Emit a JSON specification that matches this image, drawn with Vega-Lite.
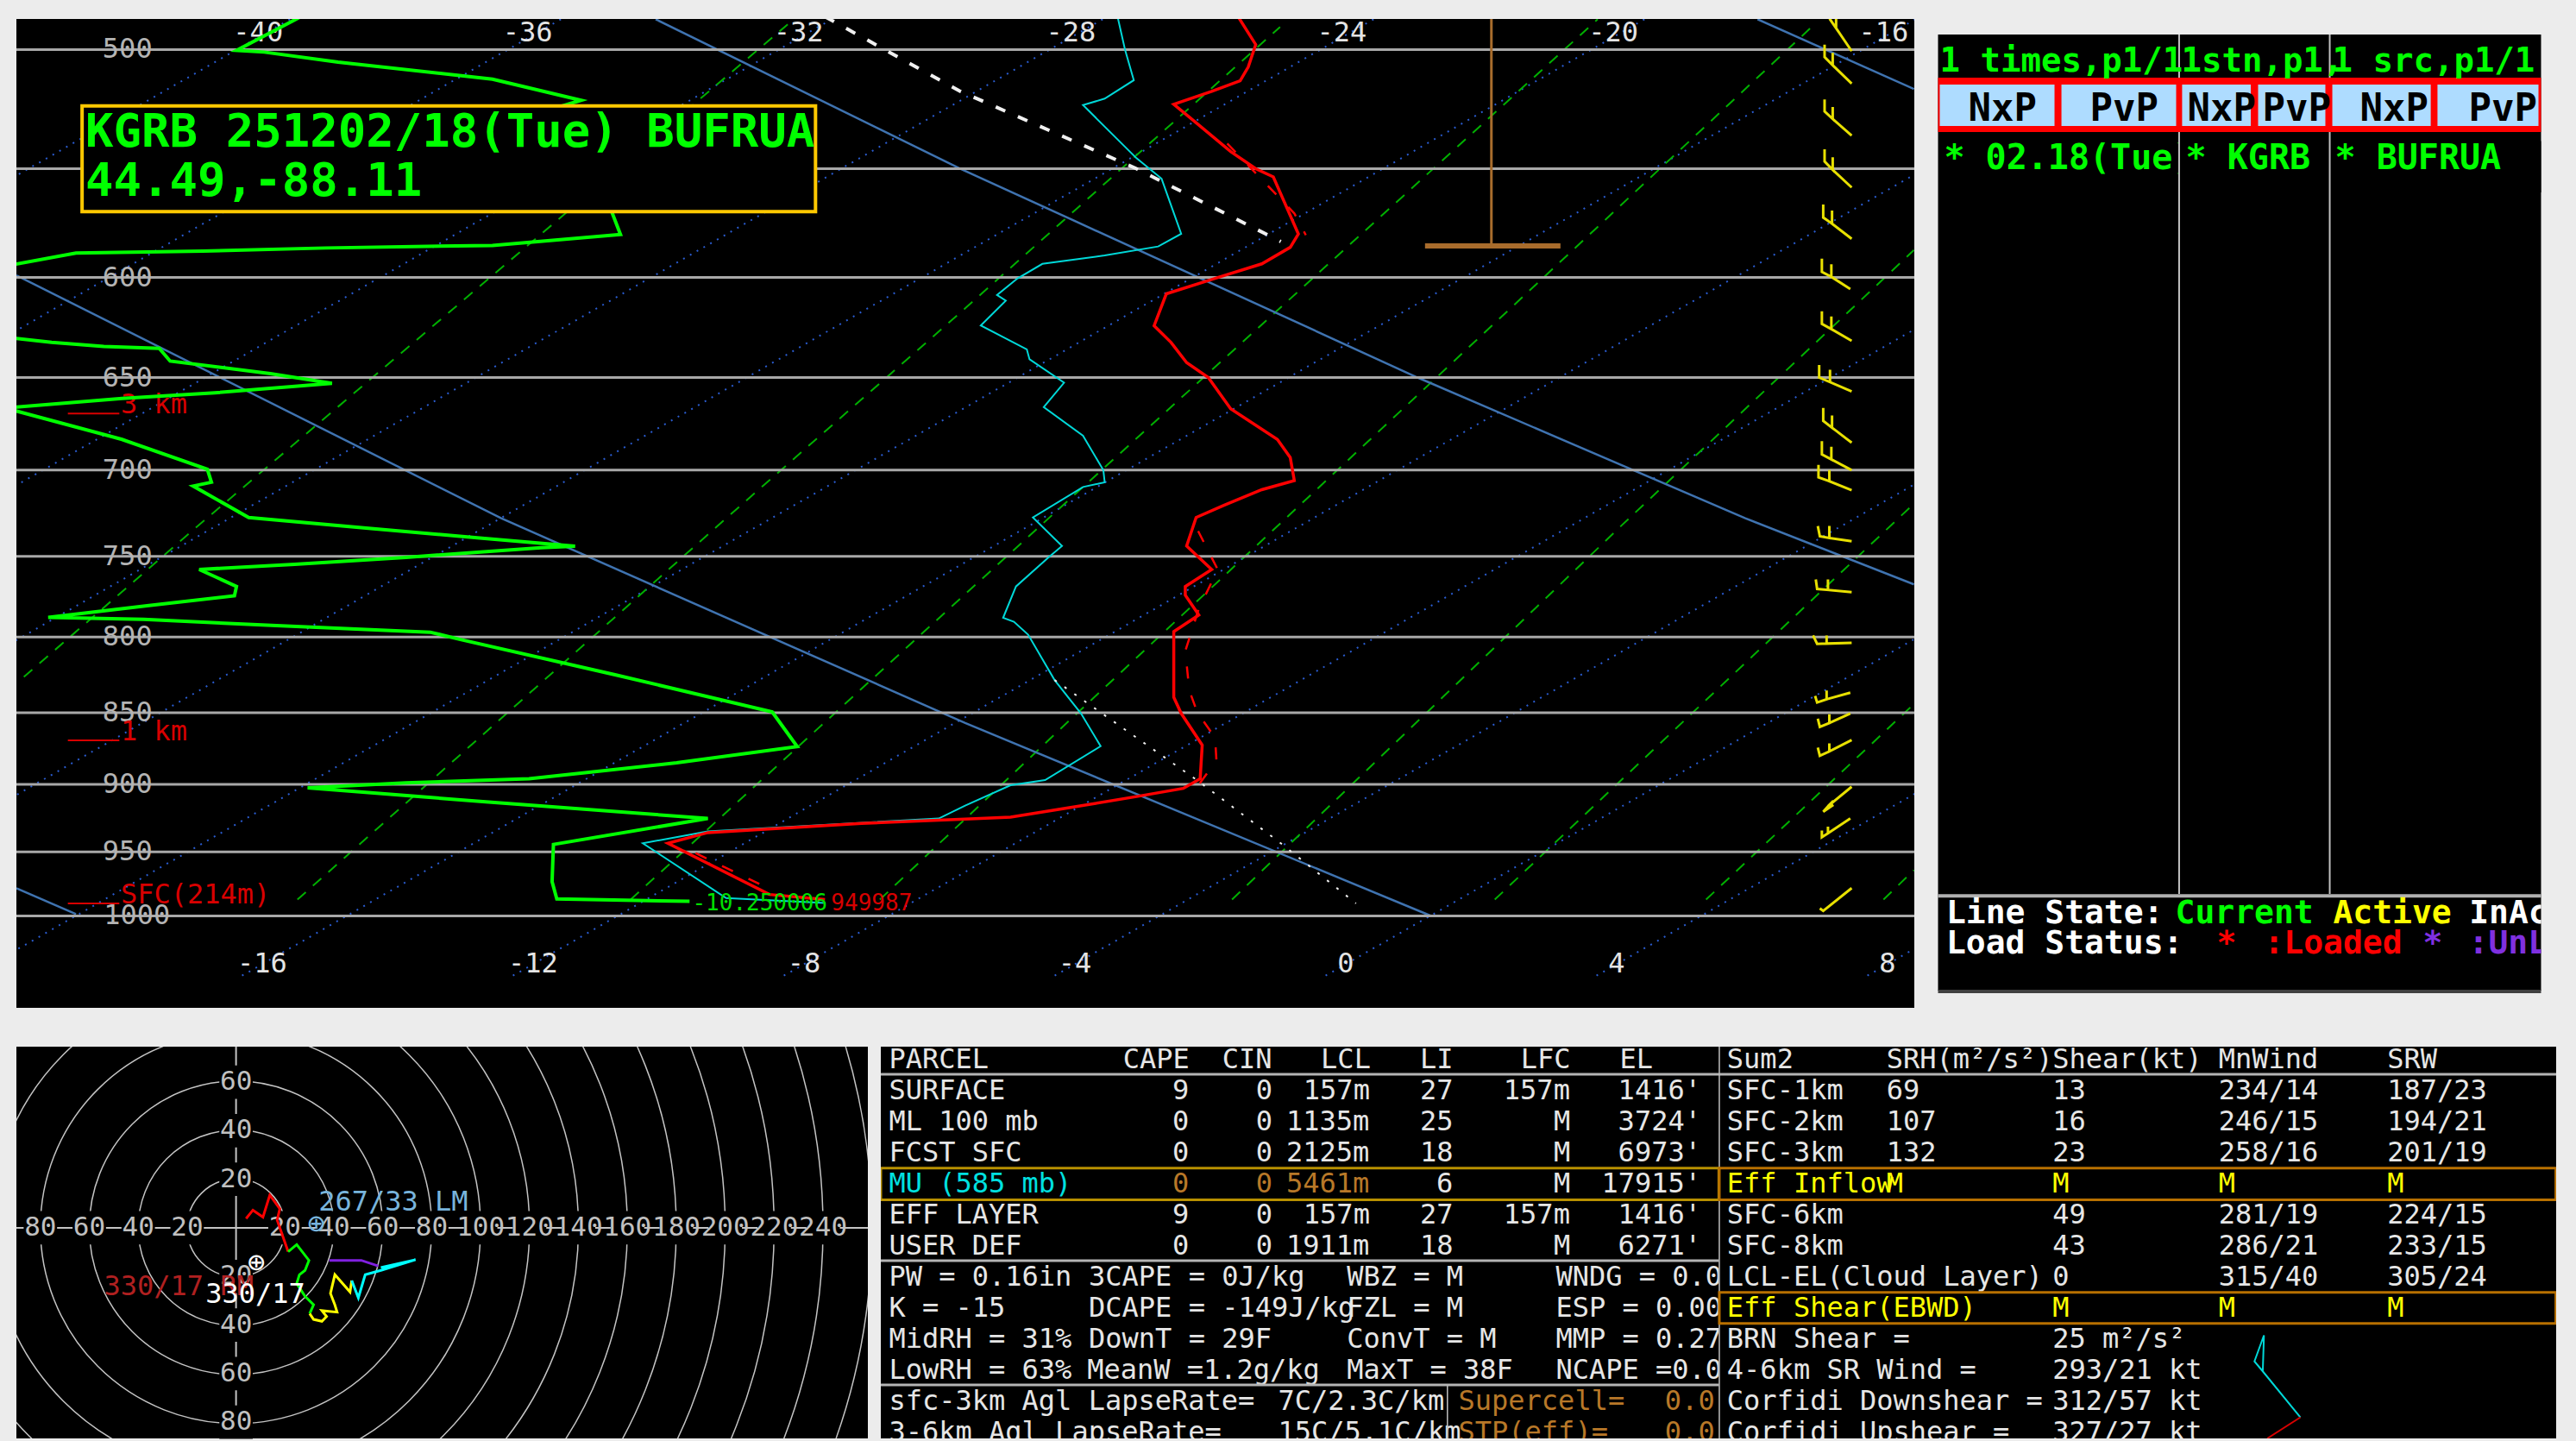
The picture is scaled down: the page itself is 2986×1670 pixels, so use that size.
{
"$schema":"https://vega.github.io/schema/vega-lite/v6.json",
"background":"#ececec",
"padding":{"left":17,"top":22,"right":24,"bottom":4},
"config":{"view":{"stroke":null},"axis":{"disable":true},"legend":{"disable":true},"text":{"font":"DejaVu Sans Mono"}},
"spacing":44,
"resolve":{"scale":{"color":"independent","stroke":"independent"}},
"datasets":{
"iso":[{"s":-40,"tx":-15.59,"p":488},{"s":-40,"tx":-40.33,"p":1050},{"s":-36,"tx":-11.59,"p":488},{"s":-36,"tx":-36.33,"p":1050},{"s":-32,"tx":-7.59,"p":488},{"s":-32,"tx":-32.33,"p":1050},{"s":-28,"tx":-3.59,"p":488},{"s":-28,"tx":-28.33,"p":1050},{"s":-24,"tx":0.41,"p":488},{"s":-24,"tx":-24.33,"p":1050},{"s":-20,"tx":4.41,"p":488},{"s":-20,"tx":-20.33,"p":1050},{"s":-16,"tx":8.41,"p":488},{"s":-16,"tx":-16.33,"p":1050},{"s":-12,"tx":12.41,"p":488},{"s":-12,"tx":-12.33,"p":1050},{"s":-8,"tx":16.41,"p":488},{"s":-8,"tx":-8.33,"p":1050},{"s":-4,"tx":20.41,"p":488},{"s":-4,"tx":-4.33,"p":1050},{"s":0,"tx":24.41,"p":488},{"s":0,"tx":-0.33,"p":1050},{"s":4,"tx":28.41,"p":488},{"s":4,"tx":3.67,"p":1050},{"s":8,"tx":32.41,"p":488},{"s":8,"tx":7.67,"p":1050}],
"mix":[{"s":0,"tx":-19.52,"p":826},{"s":0,"tx":-17.07,"p":736},{"s":0,"tx":-8.24,"p":490},{"s":1,"tx":-15.48,"p":987},{"s":1,"tx":-9.15,"p":727.5},{"s":1,"tx":-5.62,"p":615},{"s":1,"tx":-0.97,"p":491},{"s":2,"tx":-10.56,"p":987},{"s":2,"tx":-5.62,"p":773},{"s":2,"tx":3.72,"p":488},{"s":3,"tx":-6.88,"p":987},{"s":3,"tx":-4.03,"p":853},{"s":3,"tx":6.92,"p":490},{"s":4,"tx":-1.68,"p":987},{"s":4,"tx":4.09,"p":731},{"s":4,"tx":8.39,"p":587},{"s":5,"tx":2.2,"p":987},{"s":5,"tx":8.39,"p":719},{"s":6,"tx":5.32,"p":987},{"s":6,"tx":8.39,"p":844},{"s":7,"tx":7.94,"p":987},{"s":7,"tx":8.39,"p":964}],
"adiabat":[{"s":"A","tx":-10.19,"p":488},{"s":"A","tx":-5.69,"p":550},{"s":"A","tx":1.06,"p":650},{"s":"A","tx":5.9,"p":727.5},{"s":"A","tx":8.39,"p":767},{"s":"B","tx":-19.63,"p":599},{"s":"B","tx":-12.47,"p":727.5},{"s":"B","tx":-5.62,"p":857},{"s":"B","tx":1.26,"p":1000},{"s":"C","tx":-19.63,"p":978},{"s":"C","tx":-18.75,"p":998.6},{"s":"D","tx":6.08,"p":488},{"s":"D","tx":8.39,"p":516}],
"grid":[{"p":500},{"p":550},{"p":600},{"p":650},{"p":700},{"p":750},{"p":800},{"p":850},{"p":900},{"p":950},{"p":1000}],
"dew":[{"tx":-15.43,"p":487},{"tx":-16.38,"p":500.3},{"tx":-15.97,"p":501},{"tx":-14.88,"p":505},{"tx":-12.6,"p":512},{"tx":-11.29,"p":520.7},{"tx":-11.56,"p":523},{"tx":-10.83,"p":570},{"tx":-10.71,"p":579.7},{"tx":-12.6,"p":584.8},{"tx":-15.06,"p":586},{"tx":-16.88,"p":587.5},{"tx":-18.75,"p":588.4},{"tx":-24,"p":620},{"tx":-19.63,"p":630},{"tx":-19.11,"p":632},{"tx":-18.34,"p":634},{"tx":-17.52,"p":635},{"tx":-17.36,"p":641.5},{"tx":-15.88,"p":648},{"tx":-14.97,"p":653},{"tx":-15.52,"p":654.6},{"tx":-16.7,"p":658},{"tx":-18.07,"p":661},{"tx":-19.63,"p":665.6},{"tx":-19.7,"p":667},{"tx":-18.07,"p":683},{"tx":-16.81,"p":699.5},{"tx":-16.75,"p":706.8},{"tx":-17.02,"p":709},{"tx":-16.2,"p":727},{"tx":-14.43,"p":733.3},{"tx":-12.79,"p":739},{"tx":-11.38,"p":743.9},{"tx":-11.88,"p":744.8},{"tx":-13.88,"p":750.6},{"tx":-15.52,"p":754.8},{"tx":-16.93,"p":757.9},{"tx":-16.38,"p":768.3},{"tx":-16.41,"p":774},{"tx":-17.7,"p":780.2},{"tx":-19.16,"p":787.5},{"tx":-17.75,"p":788.8},{"tx":-15.79,"p":792.7},{"tx":-13.52,"p":796.9},{"tx":-13.06,"p":801.7},{"tx":-10.79,"p":824.5},{"tx":-8.47,"p":849.4},{"tx":-8.1,"p":873.3},{"tx":-9.88,"p":884.7},{"tx":-12.06,"p":896},{"tx":-13.88,"p":899},{"tx":-15.33,"p":902.6},{"tx":-12.7,"p":912.7},{"tx":-9.42,"p":925},{"tx":-11.7,"p":944.4},{"tx":-11.72,"p":973},{"tx":-11.65,"p":986.4},{"tx":-9.69,"p":988.4}],
"temp":[{"tx":-1.59,"p":487},{"tx":-1.33,"p":498},{"tx":-1.44,"p":507},{"tx":-1.56,"p":512.6},{"tx":-1.98,"p":517},{"tx":-2.54,"p":522.4},{"tx":-2.3,"p":528},{"tx":-1.7,"p":542.5},{"tx":-1.33,"p":550},{"tx":-1.07,"p":553.6},{"tx":-0.7,"p":579.5},{"tx":-0.82,"p":585.7},{"tx":-1.24,"p":593.5},{"tx":-1.89,"p":600},{"tx":-2.65,"p":607.9},{"tx":-2.83,"p":623.6},{"tx":-2.58,"p":632},{"tx":-2.35,"p":642.3},{"tx":-2.03,"p":650},{"tx":-1.7,"p":666.5},{"tx":-1.01,"p":683},{"tx":-0.82,"p":693},{"tx":-0.76,"p":705.9},{"tx":-1.24,"p":711},{"tx":-1.8,"p":720},{"tx":-2.21,"p":727},{"tx":-2.35,"p":743.8},{"tx":-1.98,"p":757.9},{"tx":-2.37,"p":768.3},{"tx":-2.37,"p":773.6},{"tx":-2.17,"p":786},{"tx":-2.54,"p":796.5},{"tx":-2.54,"p":839.5},{"tx":-2.43,"p":850.4},{"tx":-2.12,"p":872.2},{"tx":-2.15,"p":896},{"tx":-2.4,"p":903},{"tx":-3.09,"p":908.9},{"tx":-4.2,"p":918},{"tx":-4.95,"p":924},{"tx":-5.62,"p":925.5},{"tx":-7.15,"p":928.6},{"tx":-9.42,"p":935.5},{"tx":-10.01,"p":943.5},{"tx":-8.51,"p":983},{"tx":-7.69,"p":987}],
"tv":[{"s":0,"tx":-1.75,"p":539},{"s":0,"tx":-0.76,"p":570},{"s":0,"tx":-0.59,"p":580},{"s":1,"tx":-2.18,"p":735},{"s":1,"tx":-1.89,"p":758},{"s":1,"tx":-2.17,"p":782},{"s":1,"tx":-2.37,"p":809},{"s":1,"tx":-2.31,"p":835},{"s":1,"tx":-2.19,"p":850},{"s":1,"tx":-1.93,"p":867},{"s":1,"tx":-1.91,"p":883},{"s":1,"tx":-2.21,"p":903},{"s":2,"tx":-9.6,"p":951},{"s":2,"tx":-8.65,"p":975}],
"wet":[{"tx":-3.37,"p":487},{"tx":-3.26,"p":500},{"tx":-3.13,"p":512.4},{"tx":-3.56,"p":520},{"tx":-3.88,"p":522.7},{"tx":-3.09,"p":545.4},{"tx":-2.72,"p":554.4},{"tx":-2.43,"p":579.4},{"tx":-2.77,"p":585.3},{"tx":-3.56,"p":589.5},{"tx":-4.48,"p":593.5},{"tx":-4.85,"p":600.5},{"tx":-5.15,"p":608.5},{"tx":-5.02,"p":611.2},{"tx":-5.39,"p":623.5},{"tx":-4.71,"p":635.5},{"tx":-4.67,"p":640.6},{"tx":-4.16,"p":652.7},{"tx":-4.46,"p":665.6},{"tx":-3.88,"p":681},{"tx":-3.58,"p":700},{"tx":-3.56,"p":706.8},{"tx":-3.88,"p":709.5},{"tx":-4.62,"p":727},{"tx":-4.19,"p":743.8},{"tx":-4.39,"p":750.6},{"tx":-4.87,"p":768.3},{"tx":-5.06,"p":787.8},{"tx":-4.9,"p":790.3},{"tx":-4.69,"p":798.5},{"tx":-4.3,"p":828},{"tx":-3.91,"p":850.4},{"tx":-3.62,"p":873},{"tx":-4.44,"p":897},{"tx":-4.95,"p":900.7},{"tx":-5.62,"p":915.5},{"tx":-6.01,"p":925},{"tx":-9.42,"p":934.6},{"tx":-10.38,"p":943.5},{"tx":-9.15,"p":985.8},{"tx":-7.69,"p":989.7}],
"parcelUp":[{"tx":-7.69,"p":487},{"tx":-5.69,"p":517},{"tx":-3.09,"p":550},{"tx":-0.96,"p":583}],
"parcelLow":[{"tx":-4.3,"p":828},{"tx":-2.17,"p":898},{"tx":-0.96,"p":943.5},{"tx":0.15,"p":990}],
"barbs":[
{"b":1,"tx":7.47,"p":500.6},{"b":1,"tx":7.24,"p":491.5},{"b":1,"tx":7.24,"p":486.5},{"b":1,"tx":7.24,"p":491.5},{"b":1,"tx":7.15,"p":488},{"b":1,"tx":7.12,"p":484},
{"b":2,"tx":7.47,"p":513.8},{"b":2,"tx":7.19,"p":506.3},{"b":2,"tx":7.19,"p":501.3},{"b":2,"tx":7.19,"p":506.3},{"b":2,"tx":7.07,"p":503},{"b":2,"tx":7.07,"p":498},
{"b":3,"tx":7.47,"p":535.6},{"b":3,"tx":7.19,"p":528.5},{"b":3,"tx":7.19,"p":523.5},{"b":3,"tx":7.19,"p":528.5},{"b":3,"tx":7.07,"p":525.3},{"b":3,"tx":7.07,"p":520.3},
{"b":4,"tx":7.47,"p":558.3},{"b":4,"tx":7.19,"p":550.5},{"b":4,"tx":7.19,"p":545},{"b":4,"tx":7.19,"p":550.5},{"b":4,"tx":7.07,"p":546.8},{"b":4,"tx":7.07,"p":541.5},
{"b":5,"tx":7.47,"p":581.7},{"b":5,"tx":7.18,"p":574.7},{"b":5,"tx":7.18,"p":568.7},{"b":5,"tx":7.18,"p":574.7},{"b":5,"tx":7.05,"p":571.9},{"b":5,"tx":7.05,"p":566},
{"b":6,"tx":7.45,"p":605.6},{"b":6,"tx":7.17,"p":599.7},{"b":6,"tx":7.17,"p":593.7},{"b":6,"tx":7.17,"p":599.7},{"b":6,"tx":7.03,"p":597.3},{"b":6,"tx":7.03,"p":591},
{"b":7,"tx":7.47,"p":631.2},{"b":7,"tx":7.17,"p":625.3},{"b":7,"tx":7.17,"p":619},{"b":7,"tx":7.17,"p":625.3},{"b":7,"tx":7.03,"p":622.7},{"b":7,"tx":7.03,"p":616.5},
{"b":8,"tx":7.47,"p":657.3},{"b":8,"tx":7.15,"p":652.4},{"b":8,"tx":7.15,"p":646},{"b":8,"tx":7.15,"p":652.4},{"b":8,"tx":6.99,"p":650},{"b":8,"tx":6.99,"p":643.5},
{"b":9,"tx":7.47,"p":684.8},{"b":9,"tx":7.18,"p":676.6},{"b":9,"tx":7.18,"p":670},{"b":9,"tx":7.18,"p":676.6},{"b":9,"tx":7.05,"p":672.9},{"b":9,"tx":7.05,"p":666},
{"b":10,"tx":7.47,"p":700},{"b":10,"tx":7.17,"p":694},{"b":10,"tx":7.17,"p":687},{"b":10,"tx":7.17,"p":694},{"b":10,"tx":7.03,"p":691.2},{"b":10,"tx":7.03,"p":684},
{"b":11,"tx":7.47,"p":711.3},{"b":11,"tx":7.14,"p":706.2},{"b":11,"tx":7.14,"p":700},{"b":11,"tx":7.14,"p":706.2},{"b":11,"tx":6.98,"p":704},{"b":11,"tx":6.98,"p":697},
{"b":12,"tx":7.47,"p":741},{"b":12,"tx":7.14,"p":739},{"b":12,"tx":7.14,"p":732},{"b":12,"tx":7.14,"p":739},{"b":12,"tx":7.0,"p":738},{"b":12,"tx":6.97,"p":732},
{"b":13,"tx":7.47,"p":771.8},{"b":13,"tx":7.12,"p":770.4},{"b":13,"tx":7.12,"p":764},{"b":13,"tx":7.12,"p":770.4},{"b":13,"tx":6.96,"p":769.8},{"b":13,"tx":6.94,"p":764},
{"b":14,"tx":7.47,"p":803.7},{"b":14,"tx":7.1,"p":804.2},{"b":14,"tx":7.1,"p":799},{"b":14,"tx":7.1,"p":804.2},{"b":14,"tx":6.96,"p":804.4},{"b":14,"tx":6.9,"p":799},
{"b":15,"tx":7.45,"p":836.4},{"b":15,"tx":7.1,"p":840.8},{"b":15,"tx":7.1,"p":835},{"b":15,"tx":7.1,"p":840.8},{"b":15,"tx":6.96,"p":843},{"b":15,"tx":6.93,"p":838.6},
{"b":16,"tx":7.45,"p":850.4},{"b":16,"tx":7.14,"p":857},{"b":16,"tx":7.14,"p":851},{"b":16,"tx":7.14,"p":857},{"b":16,"tx":7.0,"p":859.6},{"b":16,"tx":6.97,"p":854},
{"b":17,"tx":7.47,"p":868.7},{"b":17,"tx":7.14,"p":876.7},{"b":17,"tx":7.14,"p":871},{"b":17,"tx":7.14,"p":876.7},{"b":17,"tx":7.0,"p":879.7},{"b":17,"tx":6.97,"p":874},
{"b":18,"tx":7.47,"p":901.8},{"b":18,"tx":7.12,"p":916},{"b":18,"tx":7.2,"p":912},{"b":18,"tx":7.12,"p":916},{"b":18,"tx":7.05,"p":920},{"b":18,"tx":7.2,"p":915},
{"b":19,"tx":7.45,"p":925},{"b":19,"tx":7.12,"p":936},{"b":19,"tx":7.12,"p":931},{"b":19,"tx":7.12,"p":936},{"b":19,"tx":7.03,"p":939},{"b":19,"tx":7.03,"p":934},
{"b":20,"tx":7.47,"p":978},{"b":20,"tx":7.05,"p":996},{"b":20,"tx":7.0,"p":994}
],
"tempLabels":[{"tx":-16.06,"p":493.4,"t":"-40"},{"tx":-12.08,"p":493.4,"t":"-36"},{"tx":-8.08,"p":493.4,"t":"-32"},{"tx":-4.06,"p":493.4,"t":"-28"},{"tx":-0.06,"p":493.4,"t":"-24"},{"tx":3.95,"p":493.4,"t":"-20"},{"tx":7.94,"p":493.4,"t":"-16"},{"tx":-16,"p":1039.4,"t":"-16"},{"tx":-12,"p":1039.4,"t":"-12"},{"tx":-8,"p":1039.4,"t":"-8"},{"tx":-4,"p":1039.4,"t":"-4"},{"tx":0,"p":1039.4,"t":"0"},{"tx":4,"p":1039.4,"t":"4"},{"tx":8,"p":1039.4,"t":"8"}],
"presLabels":[{"tx":-17.99,"p":500,"t":"500"},{"tx":-17.99,"p":600,"t":"600"},{"tx":-17.99,"p":650,"t":"650"},{"tx":-17.99,"p":700,"t":"700"},{"tx":-17.99,"p":750,"t":"750"},{"tx":-17.99,"p":800,"t":"800"},{"tx":-17.99,"p":850,"t":"850"},{"tx":-17.99,"p":900,"t":"900"},{"tx":-17.99,"p":950,"t":"950"},{"tx":-17.85,"p":1000,"t":"1000"}],
"heights":[{"x1":-18.87,"x2":-18.11,"p":669,"tx":-18.09,"t":"3 km"},{"x1":-18.87,"x2":-18.11,"p":869,"tx":-18.09,"t":"1 km"},{"x1":-18.87,"x2":-18.11,"p":990,"tx":-18.09,"t":"SFC(214m)"}],
"stamp":[{"x1":-18.66,"x2":-7.83,"p1":523,"p2":569.2}],
"stampText":[{"tx":-18.61,"p":540.5,"t":"KGRB 251202/18(Tue) BUFRUA"},{"tx":-18.61,"p":562.2,"t":"44.49,-88.11"}],
"tbarV":[{"tx":2.15,"p1":487.9,"p2":585}],
"tbarH":[{"x1":1.17,"x2":3.17,"p":585}],
"side":[{"c1":0,"c2":30.39,"l1":-1.229,"l2":30.43}],
"sideBand":[{"c1":0,"c2":30.39,"l1":0.2,"l2":2.0}],
"sideCover":[{"c1":12.15,"c2":30.39,"l1":2.3,"l2":4}],
"sideBtn":[{"c1":0.087,"c2":5.87,"l1":0.429,"l2":1.8},{"c1":6.22,"c2":12,"l1":0.429,"l2":1.8},{"c1":12.3,"c2":15.76,"l1":0.429,"l2":1.8},{"c1":16.13,"c2":19.52,"l1":0.429,"l2":1.8},{"c1":19.87,"c2":24.83,"l1":0.429,"l2":1.8},{"c1":25.17,"c2":30.26,"l1":0.429,"l2":1.8}],
"sideV":[{"c":12.15,"l1":-1.229,"l2":27.23},{"c":19.74,"l1":-1.229,"l2":27.23}],
"sideH":[{"c1":0,"c2":30.39,"l":27.29,"k":"a"},{"c1":0,"c2":30.39,"l":30.46,"k":"b"}],
"sideBtnText":[{"c":1.52,"l":1.63,"t":"NxP"},{"c":7.65,"l":1.63,"t":"PvP"},{"c":12.57,"l":1.63,"t":"NxP"},{"c":16.35,"l":1.63,"t":"PvP"},{"c":21.26,"l":1.63,"t":"NxP"},{"c":26.74,"l":1.63,"t":"PvP"}],
"sideHead":[{"c":0.087,"l":0,"t":"1 times,p1/1"},{"c":12.26,"l":0,"t":"1stn,p1,"},{"c":19.87,"l":0,"t":"1 src,p1/1"}],
"sideStatus":[{"c":0.41,"l":28.2,"t":"Line State:","k":"w"},{"c":11.96,"l":28.2,"t":"Current","k":"g"},{"c":19.91,"l":28.2,"t":"Active","k":"y"},{"c":26.77,"l":28.2,"t":"InAc","k":"w"},{"c":0.41,"l":29.2,"t":"Load Status:","k":"w"},{"c":14.04,"l":29.2,"t":"*","k":"r"},{"c":16.43,"l":29.2,"t":":Loaded","k":"r"},{"c":24.43,"l":29.2,"t":"*","k":"p"},{"c":26.74,"l":29.2,"t":":UnL","k":"p"}],
"rings":[{"u":0,"v":0,"r":20},{"u":0,"v":0,"r":40},{"u":0,"v":0,"r":60},{"u":0,"v":0,"r":80},{"u":0,"v":0,"r":100},{"u":0,"v":0,"r":120},{"u":0,"v":0,"r":140},{"u":0,"v":0,"r":160},{"u":0,"v":0,"r":180},{"u":0,"v":0,"r":200},{"u":0,"v":0,"r":220},{"u":0,"v":0,"r":240},{"u":0,"v":0,"r":260}],
"ringLabels":[{"u":-80,"v":0,"t":"80"},{"u":-60,"v":0,"t":"60"},{"u":-40,"v":0,"t":"40"},{"u":-20,"v":0,"t":"20"},{"u":20,"v":0,"t":"20"},{"u":40,"v":0,"t":"40"},{"u":60,"v":0,"t":"60"},{"u":80,"v":0,"t":"80"},{"u":100,"v":0,"t":"100"},{"u":120,"v":0,"t":"120"},{"u":140,"v":0,"t":"140"},{"u":160,"v":0,"t":"160"},{"u":180,"v":0,"t":"180"},{"u":200,"v":0,"t":"200"},{"u":220,"v":0,"t":"220"},{"u":240,"v":0,"t":"240"},{"u":0,"v":60,"t":"60"},{"u":0,"v":40,"t":"40"},{"u":0,"v":20,"t":"20"},{"u":0,"v":-20,"t":"20"},{"u":0,"v":-40,"t":"40"},{"u":0,"v":-60,"t":"60"},{"u":0,"v":-80,"t":"80"}],
"hodo":[{"s":"red","u":4.1,"v":3.8},{"s":"red","u":6.9,"v":7.3},{"s":"red","u":11,"v":4.4},{"s":"red","u":13.8,"v":13.5},{"s":"red","u":17.9,"v":7.9},{"s":"red","u":16.8,"v":3.2},{"s":"red","u":21.3,"v":-9.8},{"s":"green","u":21.3,"v":-9.8},{"s":"green","u":24.8,"v":-6.9},{"s":"green","u":29.8,"v":-13.4},{"s":"green","u":28.2,"v":-17.5},{"s":"green","u":25.9,"v":-19.3},{"s":"green","u":24.8,"v":-22.9},{"s":"green","u":28.2,"v":-28.2},{"s":"green","u":31.7,"v":-31.7},{"s":"green","u":30.1,"v":-35.3},{"s":"yellow","u":30.1,"v":-35.3},{"s":"yellow","u":31.7,"v":-37.7},{"s":"yellow","u":35.1,"v":-38.5},{"s":"yellow","u":37,"v":-36.5},{"s":"yellow","u":35.1,"v":-34.1},{"s":"yellow","u":41.3,"v":-34.7},{"s":"yellow","u":40.4,"v":-31.7},{"s":"yellow","u":38.6,"v":-27},{"s":"yellow","u":40.4,"v":-19.3},{"s":"yellow","u":46.6,"v":-26.4},{"s":"yellow","u":47.3,"v":-21.7},{"s":"cyan","u":47.3,"v":-21.7},{"s":"cyan","u":50,"v":-28.8},{"s":"cyan","u":52.8,"v":-19.3},{"s":"cyan","u":59.2,"v":-17.5},{"s":"cyan","u":73.4,"v":-13.1},{"s":"cyan","u":59.2,"v":-16.3},{"s":"purple","u":38.1,"v":-13.4},{"s":"purple","u":51.2,"v":-13.4},{"s":"purple","u":58.1,"v":-15.7}],
"hodoText":[{"u":33.7,"v":7.2,"t":"267/33 LM","k":"lm"},{"u":-54,"v":-27.6,"t":"330/17 RM","k":"rm"},{"u":-12.5,"v":-30.8,"t":"330/17","k":"w"}],
"hodoMark":[{"u":32.8,"v":1.4,"k":"lm"},{"u":8.3,"v":-14.6,"k":"w"}],
"cellsL":[
{"c":0.49,"r":0,"t":"PARCEL","k":"w"},{"c":14.54,"r":0,"t":"CAPE","k":"w"},{"c":20.5,"r":0,"t":"CIN","k":"w"},{"c":26.43,"r":0,"t":"LCL","k":"w"},{"c":32.38,"r":0,"t":"LI","k":"w"},{"c":38.43,"r":0,"t":"LFC","k":"w"},{"c":44.38,"r":0,"t":"EL","k":"w"},
{"c":0.49,"r":1,"t":"SURFACE","k":"w"},{"c":17.51,"r":1,"t":"9","k":"w"},{"c":22.53,"r":1,"t":"0","k":"w"},{"c":25.38,"r":1,"t":"157m","k":"w"},{"c":32.38,"r":1,"t":"27","k":"w"},{"c":37.4,"r":1,"t":"157m","k":"w"},{"c":44.28,"r":1,"t":"1416'","k":"w"},
{"c":0.49,"r":2,"t":"ML 100 mb","k":"w"},{"c":17.51,"r":2,"t":"0","k":"w"},{"c":22.53,"r":2,"t":"0","k":"w"},{"c":24.35,"r":2,"t":"1135m","k":"w"},{"c":32.38,"r":2,"t":"25","k":"w"},{"c":40.41,"r":2,"t":"M","k":"w"},{"c":44.28,"r":2,"t":"3724'","k":"w"},
{"c":0.49,"r":3,"t":"FCST SFC","k":"w"},{"c":17.51,"r":3,"t":"0","k":"w"},{"c":22.53,"r":3,"t":"0","k":"w"},{"c":24.35,"r":3,"t":"2125m","k":"w"},{"c":32.38,"r":3,"t":"18","k":"w"},{"c":40.41,"r":3,"t":"M","k":"w"},{"c":44.28,"r":3,"t":"6973'","k":"w"},
{"c":0.49,"r":4,"t":"MU (585 mb)","k":"c"},{"c":17.51,"r":4,"t":"0","k":"o"},{"c":22.53,"r":4,"t":"0","k":"o"},{"c":24.35,"r":4,"t":"5461m","k":"o"},{"c":33.37,"r":4,"t":"6","k":"w"},{"c":40.41,"r":4,"t":"M","k":"w"},{"c":43.29,"r":4,"t":"17915'","k":"w"},
{"c":0.49,"r":5,"t":"EFF LAYER","k":"w"},{"c":17.51,"r":5,"t":"9","k":"w"},{"c":22.53,"r":5,"t":"0","k":"w"},{"c":25.38,"r":5,"t":"157m","k":"w"},{"c":32.38,"r":5,"t":"27","k":"w"},{"c":37.4,"r":5,"t":"157m","k":"w"},{"c":44.28,"r":5,"t":"1416'","k":"w"},
{"c":0.49,"r":6,"t":"USER DEF","k":"w"},{"c":17.51,"r":6,"t":"0","k":"w"},{"c":22.53,"r":6,"t":"0","k":"w"},{"c":24.35,"r":6,"t":"1911m","k":"w"},{"c":32.38,"r":6,"t":"18","k":"w"},{"c":40.41,"r":6,"t":"M","k":"w"},{"c":44.28,"r":6,"t":"6271'","k":"w"},
{"c":0.49,"r":7,"t":"PW = 0.16in","k":"w"},{"c":12.49,"r":7,"t":"3CAPE = 0J/kg","k":"w"},{"c":27.99,"r":7,"t":"WBZ =  M","k":"w"},{"c":40.54,"r":7,"t":"WNDG = 0.0","k":"w"},
{"c":0.49,"r":8,"t":"K = -15","k":"w"},{"c":12.49,"r":8,"t":"DCAPE = -149J/kg","k":"w"},{"c":27.99,"r":8,"t":"FZL =  M","k":"w"},{"c":40.54,"r":8,"t":"ESP = 0.00","k":"w"},
{"c":0.49,"r":9,"t":"MidRH = 31%","k":"w"},{"c":12.49,"r":9,"t":"DownT = 29F","k":"w"},{"c":27.99,"r":9,"t":"ConvT =  M","k":"w"},{"c":40.54,"r":9,"t":"MMP = 0.27","k":"w"},
{"c":0.49,"r":10,"t":"LowRH = 63%","k":"w"},{"c":12.39,"r":10,"t":"MeanW =1.2g/kg","k":"w"},{"c":27.99,"r":10,"t":"MaxT = 38F","k":"w"},{"c":40.54,"r":10,"t":"NCAPE =0.0","k":"w"},
{"c":0.49,"r":11,"t":"sfc-3km Agl LapseRate=","k":"w"},{"c":23.86,"r":11,"t":"7C/2.3C/km","k":"w"},{"c":34.69,"r":11,"t":"Supercell=","k":"o"},{"c":47.09,"r":11,"t":"0.0","k":"o"},
{"c":0.49,"r":12,"t":"3-6km Agl LapseRate=","k":"w"},{"c":23.86,"r":12,"t":"15C/5.1C/km","k":"w"},{"c":34.69,"r":12,"t":"STP(eff)=","k":"o"},{"c":47.09,"r":12,"t":"0.0","k":"o"}
],
"cellsR":[
{"c":50.82,"r":0,"t":"Sum2","k":"w"},{"c":60.4,"r":0,"t":"SRH(m²/s²)","k":"w"},{"c":70.37,"r":0,"t":"Shear(kt)","k":"w"},{"c":80.35,"r":0,"t":"MnWind","k":"w"},{"c":90.48,"r":0,"t":"SRW","k":"w"},
{"c":50.82,"r":1,"t":"SFC-1km","k":"w"},{"c":60.4,"r":1,"t":"69","k":"w"},{"c":70.37,"r":1,"t":"13","k":"w"},{"c":80.35,"r":1,"t":"234/14","k":"w"},{"c":90.48,"r":1,"t":"187/23","k":"w"},
{"c":50.82,"r":2,"t":"SFC-2km","k":"w"},{"c":60.4,"r":2,"t":"107","k":"w"},{"c":70.37,"r":2,"t":"16","k":"w"},{"c":80.35,"r":2,"t":"246/15","k":"w"},{"c":90.48,"r":2,"t":"194/21","k":"w"},
{"c":50.82,"r":3,"t":"SFC-3km","k":"w"},{"c":60.4,"r":3,"t":"132","k":"w"},{"c":70.37,"r":3,"t":"23","k":"w"},{"c":80.35,"r":3,"t":"258/16","k":"w"},{"c":90.48,"r":3,"t":"201/19","k":"w"},
{"c":50.82,"r":4,"t":"Eff Inflow","k":"y"},{"c":60.4,"r":4,"t":"M","k":"y"},{"c":70.37,"r":4,"t":"M","k":"y"},{"c":80.35,"r":4,"t":"M","k":"y"},{"c":90.48,"r":4,"t":"M","k":"y"},
{"c":50.82,"r":5,"t":"SFC-6km","k":"w"},{"c":70.37,"r":5,"t":"49","k":"w"},{"c":80.35,"r":5,"t":"281/19","k":"w"},{"c":90.48,"r":5,"t":"224/15","k":"w"},
{"c":50.82,"r":6,"t":"SFC-8km","k":"w"},{"c":70.37,"r":6,"t":"43","k":"w"},{"c":80.35,"r":6,"t":"286/21","k":"w"},{"c":90.48,"r":6,"t":"233/15","k":"w"},
{"c":50.82,"r":7,"t":"LCL-EL(Cloud Layer)","k":"w"},{"c":70.37,"r":7,"t":"0","k":"w"},{"c":80.35,"r":7,"t":"315/40","k":"w"},{"c":90.48,"r":7,"t":"305/24","k":"w"},
{"c":50.82,"r":8,"t":"Eff Shear(EBWD)","k":"y"},{"c":70.37,"r":8,"t":"M","k":"y"},{"c":80.35,"r":8,"t":"M","k":"y"},{"c":90.48,"r":8,"t":"M","k":"y"},
{"c":50.82,"r":9,"t":"BRN Shear =","k":"w"},{"c":70.37,"r":9,"t":"25 m²/s²","k":"w"},
{"c":50.82,"r":10,"t":"4-6km SR Wind =","k":"w"},{"c":70.37,"r":10,"t":"293/21 kt","k":"w"},
{"c":50.82,"r":11,"t":"Corfidi Downshear =","k":"w"},{"c":70.37,"r":11,"t":"312/57 kt","k":"w"},
{"c":50.82,"r":12,"t":"Corfidi Upshear =","k":"w"},{"c":70.37,"r":12,"t":"327/27 kt","k":"w"}
],
"tblCover":[{"c1":50.33,"c2":100.62,"r1":-0.703,"r2":11.91}],
"tblH":[{"c1":0,"c2":100.62,"r":0.186},{"c1":0,"c2":50.33,"r":6.186},{"c1":0,"c2":50.33,"r":10.186}],
"tblV":[{"c":50.36,"r1":-0.703,"r2":11.91},{"c":34.03,"r1":10.2,"r2":11.91}],
"tblBox":[{"c1":0,"c2":50.33,"r1":3.21,"r2":4.23,"k":"mu"},{"c1":50.36,"c2":100.6,"r1":3.21,"r2":4.23,"k":"eff"},{"c1":50.36,"c2":100.6,"r1":7.21,"r2":8.21,"k":"eff"}],
"mini":[{"s":"c","c":85.26,"r":11.23},{"s":"c","c":83,"r":9.75},{"s":"c","c":82.5,"r":9.43},{"s":"c","c":83.07,"r":8.59},{"s":"c","c":83,"r":9.75},{"s":"d","c":85.26,"r":11.23},{"s":"d","c":83.27,"r":11.91}]
},
"vconcat":[
{"resolve":{"scale":{"color":"independent","stroke":"independent"}},"hconcat":[
{"width":2200,"height":1146,"view":{"fill":"#000000","stroke":null},
"layer":[
{"data":{"name":"iso"},"mark":{"type":"line","clip":true,"order":false,"color":"#2a5cd0","strokeWidth":2,"strokeDash":[2,7]},"encoding":{"detail":{"field":"s"},
"x":{"field":"tx","type":"quantitative","scale":{"domain":[-19.63,8.395],"nice":false,"zero":false}},
"y":{"field":"p","type":"quantitative","scale":{"type":"log","domain":[487.9,1076.3],"nice":false,"reverse":true}}}},
{"data":{"name":"mix"},"mark":{"type":"line","clip":true,"order":false,"color":"#00b000","strokeWidth":2,"strokeDash":[13,11]},"encoding":{"detail":{"field":"s"},"x":{"field":"tx","type":"quantitative"},"y":{"field":"p","type":"quantitative"}}},
{"data":{"name":"adiabat"},"mark":{"type":"line","clip":true,"order":false,"color":"#3f73b0","strokeWidth":2.5},"encoding":{"detail":{"field":"s"},"x":{"field":"tx","type":"quantitative"},"y":{"field":"p","type":"quantitative"}}},
{"data":{"name":"grid"},"mark":{"type":"rule","color":"#a8a8a8","strokeWidth":3},"encoding":{"y":{"field":"p","type":"quantitative"}}},
{"data":{"name":"tbarV"},"mark":{"type":"rule","clip":true,"color":"#a86c2c","strokeWidth":3},"encoding":{"x":{"field":"tx","type":"quantitative"},"y":{"field":"p1","type":"quantitative"},"y2":{"field":"p2"}}},
{"data":{"name":"tbarH"},"mark":{"type":"rule","color":"#a86c2c","strokeWidth":6},"encoding":{"x":{"field":"x1","type":"quantitative"},"x2":{"field":"x2"},"y":{"field":"p","type":"quantitative"}}},
{"data":{"name":"tempLabels"},"mark":{"type":"text","fontSize":32,"color":"#e4e4e4","align":"center","baseline":"middle"},"encoding":{"x":{"field":"tx","type":"quantitative"},"y":{"field":"p","type":"quantitative"},"text":{"field":"t"}}},
{"data":{"name":"presLabels"},"mark":{"type":"text","fontSize":32,"color":"#b4b4b4","align":"center","baseline":"middle"},"encoding":{"x":{"field":"tx","type":"quantitative"},"y":{"field":"p","type":"quantitative"},"text":{"field":"t"}}},
{"data":{"name":"heights"},"mark":{"type":"rule","color":"#d80000","strokeWidth":2},"encoding":{"x":{"field":"x1","type":"quantitative"},"x2":{"field":"x2"},"y":{"field":"p","type":"quantitative"}}},
{"data":{"name":"heights"},"mark":{"type":"text","fontSize":32,"color":"#d80000","align":"left","baseline":"alphabetic"},"encoding":{"x":{"field":"tx","type":"quantitative"},"y":{"field":"p","type":"quantitative"},"text":{"field":"t"}}},
{"data":{"name":"dew"},"mark":{"type":"line","clip":true,"order":false,"color":"#00ff00","strokeWidth":4},"encoding":{"x":{"field":"tx","type":"quantitative"},"y":{"field":"p","type":"quantitative"}}},
{"data":{"name":"wet"},"mark":{"type":"line","clip":true,"order":false,"color":"#00d8d8","strokeWidth":2},"encoding":{"x":{"field":"tx","type":"quantitative"},"y":{"field":"p","type":"quantitative"}}},
{"data":{"name":"temp"},"mark":{"type":"line","clip":true,"order":false,"color":"#ff0000","strokeWidth":3.5},"encoding":{"x":{"field":"tx","type":"quantitative"},"y":{"field":"p","type":"quantitative"}}},
{"data":{"name":"tv"},"mark":{"type":"line","clip":true,"order":false,"color":"#ff0000","strokeWidth":2.5,"strokeDash":[14,20]},"encoding":{"detail":{"field":"s"},"x":{"field":"tx","type":"quantitative"},"y":{"field":"p","type":"quantitative"}}},
{"data":{"name":"parcelUp"},"mark":{"type":"line","clip":true,"order":false,"color":"#f0f0f0","strokeWidth":4,"strokeDash":[12,16]},"encoding":{"x":{"field":"tx","type":"quantitative"},"y":{"field":"p","type":"quantitative"}}},
{"data":{"name":"parcelLow"},"mark":{"type":"line","clip":true,"order":false,"color":"#f0f0f0","strokeWidth":2,"strokeDash":[3,11]},"encoding":{"x":{"field":"tx","type":"quantitative"},"y":{"field":"p","type":"quantitative"}}},
{"data":{"name":"barbs"},"mark":{"type":"line","clip":true,"order":false,"color":"#e8e000","strokeWidth":3},"encoding":{"detail":{"field":"b"},"x":{"field":"tx","type":"quantitative"},"y":{"field":"p","type":"quantitative"}}},
{"data":{"values":[{"tx":-9.65,"p":995.6,"t":"-10.250006"}]},"mark":{"type":"text","fontSize":26,"color":"#00e000","align":"left","baseline":"alphabetic"},"encoding":{"x":{"field":"tx","type":"quantitative"},"y":{"field":"p","type":"quantitative"},"text":{"field":"t"}}},
{"data":{"values":[{"tx":-7.6,"p":995.6,"t":"949987"}]},"mark":{"type":"text","fontSize":26,"color":"#d80000","align":"left","baseline":"alphabetic"},"encoding":{"x":{"field":"tx","type":"quantitative"},"y":{"field":"p","type":"quantitative"},"text":{"field":"t"}}},
{"data":{"name":"stamp"},"mark":{"type":"rect","fill":"#000000","stroke":"#ffc800","strokeWidth":4},"encoding":{"x":{"field":"x1","type":"quantitative"},"x2":{"field":"x2"},"y":{"field":"p1","type":"quantitative"},"y2":{"field":"p2"}}},
{"data":{"name":"stampText"},"mark":{"type":"text","fontSize":54,"fontWeight":"bold","color":"#00ff00","align":"left","baseline":"alphabetic"},"encoding":{"x":{"field":"tx","type":"quantitative"},"y":{"field":"p","type":"quantitative"},"text":{"field":"t"}}}
]},
{"width":699,"height":1146,
"layer":[
{"data":{"name":"side"},"mark":{"type":"rect","fill":"#000000"},"encoding":{
"x":{"field":"c1","type":"quantitative","scale":{"domain":[0,30.39],"nice":false,"zero":false}},"x2":{"field":"c2"},
"y":{"field":"l1","type":"quantitative","scale":{"domain":[-1.743,31],"nice":false,"zero":false,"reverse":true}},"y2":{"field":"l2"}}},
{"data":{"values":[{"c":0.3,"l":3.23,"t":"* 02.18(Tue)"}]},"mark":{"type":"text","fontSize":40,"fontWeight":"bold","color":"#00ff00","align":"left","baseline":"alphabetic"},"encoding":{"x":{"field":"c","type":"quantitative"},"y":{"field":"l","type":"quantitative"},"text":{"field":"t"}}},
{"data":{"name":"sideCover"},"mark":{"type":"rect","fill":"#000000"},"encoding":{"x":{"field":"c1","type":"quantitative"},"x2":{"field":"c2"},"y":{"field":"l1","type":"quantitative"},"y2":{"field":"l2"}}},
{"data":{"name":"sideV"},"mark":{"type":"rule","color":"#c0c0c0","strokeWidth":2},"encoding":{"x":{"field":"c","type":"quantitative"},"y":{"field":"l1","type":"quantitative"},"y2":{"field":"l2"}}},
{"data":{"name":"sideH"},"mark":{"type":"rule","strokeWidth":4},"encoding":{"x":{"field":"c1","type":"quantitative"},"x2":{"field":"c2"},"y":{"field":"l","type":"quantitative"},"color":{"field":"k","scale":{"domain":["a","b"],"range":["#b0b0b0","#404040"]}}}},
{"data":{"name":"sideBand"},"mark":{"type":"rect","fill":"#ff0000"},"encoding":{"x":{"field":"c1","type":"quantitative"},"x2":{"field":"c2"},"y":{"field":"l1","type":"quantitative"},"y2":{"field":"l2"}}},
{"data":{"name":"sideBtn"},"mark":{"type":"rect","fill":"#aedcff"},"encoding":{"x":{"field":"c1","type":"quantitative"},"x2":{"field":"c2"},"y":{"field":"l1","type":"quantitative"},"y2":{"field":"l2"}}},
{"data":{"name":"sideBtnText"},"mark":{"type":"text","fontSize":44,"fontWeight":"bold","color":"#000000","align":"left","baseline":"alphabetic"},"encoding":{"x":{"field":"c","type":"quantitative"},"y":{"field":"l","type":"quantitative"},"text":{"field":"t"}}},
{"data":{"name":"sideHead"},"mark":{"type":"text","fontSize":39,"fontWeight":"bold","color":"#00ff00","align":"left","baseline":"alphabetic"},"encoding":{"x":{"field":"c","type":"quantitative"},"y":{"field":"l","type":"quantitative"},"text":{"field":"t"}}},
{"data":{"values":[{"c":12.48,"l":3.23,"t":"* KGRB"},{"c":20,"l":3.23,"t":"* BUFRUA"}]},"mark":{"type":"text","fontSize":40,"fontWeight":"bold","color":"#00ff00","align":"left","baseline":"alphabetic"},"encoding":{"x":{"field":"c","type":"quantitative"},"y":{"field":"l","type":"quantitative"},"text":{"field":"t"}}},
{"data":{"name":"sideStatus"},"mark":{"type":"text","clip":true,"fontSize":38,"fontWeight":"bold","align":"left","baseline":"alphabetic"},"encoding":{"x":{"field":"c","type":"quantitative"},"y":{"field":"l","type":"quantitative"},"text":{"field":"t"},"color":{"field":"k","scale":{"domain":["w","g","y","r","p"],"range":["#ffffff","#00ff00","#ffff00","#ff0000","#8030e0"]}}}}
],"resolve":{"scale":{"color":"independent"}}}
],"spacing":23.5},
{"resolve":{"scale":{"color":"independent","stroke":"independent"}},"hconcat":[
{"width":987,"height":454,"view":{"fill":"#000000","stroke":null},
"layer":[
{"data":{"name":"rings"},"mark":{"type":"point","shape":"circle","filled":false,"clip":true,"color":"#c4c4c4","strokeWidth":1.5,"opacity":1},"encoding":{
"x":{"field":"u","type":"quantitative","scale":{"domain":[-89.8,258.3],"nice":false,"zero":false}},
"y":{"field":"v","type":"quantitative","scale":{"domain":[-86.7,74.6],"nice":false,"zero":false}},
"size":{"field":"r","type":"quantitative","scale":{"type":"pow","exponent":2,"domain":[0,300],"range":[0,2893401]}}}},
{"data":{"values":[{"v":0}]},"mark":{"type":"rule","color":"#c4c4c4","strokeWidth":2},"encoding":{"y":{"field":"v","type":"quantitative"}}},
{"data":{"values":[{"u":0}]},"mark":{"type":"rule","color":"#c4c4c4","strokeWidth":2},"encoding":{"x":{"field":"u","type":"quantitative"}}},
{"data":{"name":"ringLabels"},"mark":{"type":"point","shape":"square","filled":true,"color":"#000000","size":1500,"opacity":1},"encoding":{"x":{"field":"u","type":"quantitative"},"y":{"field":"v","type":"quantitative"}}},
{"data":{"name":"ringLabels"},"mark":{"type":"text","fontSize":31,"color":"#c0c0c0","align":"center","baseline":"middle"},"encoding":{"x":{"field":"u","type":"quantitative"},"y":{"field":"v","type":"quantitative"},"text":{"field":"t"}}},
{"data":{"name":"hodo"},"mark":{"type":"line","order":false,"strokeWidth":3},"encoding":{"x":{"field":"u","type":"quantitative"},"y":{"field":"v","type":"quantitative"},"color":{"field":"s","scale":{"domain":["red","green","yellow","cyan","purple"],"range":["#ff0000","#00ff00","#ffff00","#00ffff","#8020e0"]}}}},
{"data":{"name":"hodoText"},"mark":{"type":"text","fontSize":32,"align":"left","baseline":"alphabetic"},"encoding":{"x":{"field":"u","type":"quantitative"},"y":{"field":"v","type":"quantitative"},"text":{"field":"t"},"color":{"field":"k","scale":{"domain":["lm","rm","w"],"range":["#78b4dc","#b02020","#ffffff"]}}}},
{"data":{"name":"hodoMark"},"mark":{"type":"text","fontSize":34,"align":"center","baseline":"middle","text":"⊕"},"encoding":{"x":{"field":"u","type":"quantitative"},"y":{"field":"v","type":"quantitative"},"color":{"field":"k","scale":{"domain":["lm","rm","w"],"range":["#78b4dc","#b02020","#ffffff"]}}}}
],"resolve":{"scale":{"color":"independent"}}},
{"width":1942,"height":454,"view":{"fill":"#000000","stroke":null},
"layer":[
{"data":{"name":"cellsL"},"mark":{"type":"text","clip":true,"fontSize":32,"align":"left","baseline":"alphabetic"},"encoding":{
"x":{"field":"c","type":"quantitative","scale":{"domain":[0,100.62],"nice":false,"zero":false}},
"y":{"field":"r","type":"quantitative","scale":{"domain":[-0.703,11.91],"nice":false,"zero":false,"reverse":true}},
"text":{"field":"t"},"color":{"field":"k","scale":{"domain":["w","c","o","y"],"range":["#e6e6e6","#00e0e0","#b87828","#ffff00"]}}}},
{"data":{"name":"tblCover"},"mark":{"type":"rect","fill":"#000000"},"encoding":{"x":{"field":"c1","type":"quantitative"},"x2":{"field":"c2"},"y":{"field":"r1","type":"quantitative"},"y2":{"field":"r2"}}},
{"data":{"name":"tblH"},"mark":{"type":"rule","color":"#b4b4b4","strokeWidth":3},"encoding":{"x":{"field":"c1","type":"quantitative"},"x2":{"field":"c2"},"y":{"field":"r","type":"quantitative"}}},
{"data":{"name":"tblV"},"mark":{"type":"rule","color":"#c0c0c0","strokeWidth":1.5},"encoding":{"x":{"field":"c","type":"quantitative"},"y":{"field":"r1","type":"quantitative"},"y2":{"field":"r2"}}},
{"data":{"name":"cellsR"},"mark":{"type":"text","clip":true,"fontSize":32,"align":"left","baseline":"alphabetic"},"encoding":{"x":{"field":"c","type":"quantitative"},"y":{"field":"r","type":"quantitative"},"text":{"field":"t"},"color":{"field":"k","scale":{"domain":["w","c","o","y"],"range":["#e6e6e6","#00e0e0","#b87828","#ffff00"]}}}},
{"data":{"name":"tblBox"},"mark":{"type":"rect","clip":true,"fillOpacity":0,"strokeWidth":3,"fill":"#000000"},"encoding":{"x":{"field":"c1","type":"quantitative"},"x2":{"field":"c2"},"y":{"field":"r1","type":"quantitative"},"y2":{"field":"r2"},"stroke":{"field":"k","scale":{"domain":["mu","eff"],"range":["#b89000","#b87000"]}}}},
{"data":{"name":"mini"},"mark":{"type":"line","clip":true,"order":false,"strokeWidth":2},"encoding":{"x":{"field":"c","type":"quantitative"},"y":{"field":"r","type":"quantitative"},"color":{"field":"s","scale":{"domain":["c","d"],"range":["#00d8d8","#d80000"]}}}}
],"resolve":{"scale":{"color":"independent"}}}
],"spacing":12}
]
}
